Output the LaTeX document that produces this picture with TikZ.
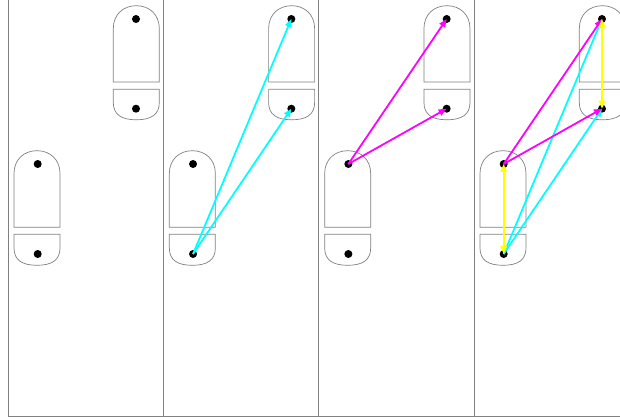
\documentclass[tikz,border=0pt]{standalone}
\usetikzlibrary{arrows.meta}
\definecolor{framegray}{RGB}{128,128,128}
\definecolor{cy}{RGB}{0,255,255}
\definecolor{mg}{RGB}{255,0,255}
\definecolor{yl}{RGB}{255,255,0}
\begin{document}
\begin{tikzpicture}[x=1pt,y=-1pt,
  frameline/.style={draw=framegray,line width=0.9pt},
  outline/.style={draw=framegray,line width=0.7pt},
  dot/.style={circle,fill=black,inner sep=0pt,minimum size=8pt},
  arr/.style={line width=1.8pt,-{Triangle[length=8pt,width=6.5pt]}},
  dblarr/.style={line width=1.8pt,{Triangle[length=8pt,width=6.5pt]}-{Triangle[length=8pt,width=6.5pt]}},
  cyanarrow/.style={arr,draw=cy,fill=cy},
  magentaarrow/.style={arr,draw=mg,fill=mg},
  yellowarrow/.style={dblarr,draw=yl,fill=yl}]
\useasboundingbox (0,0) rectangle (620,419);
% frame
\foreach \px in {8,163.33,318.67,474}
  \draw[frameline] (\px,0) -- (\px,416);
\draw[frameline] (8,416) -- (620,416);
% shapes and dots
\foreach \i/\px in {1/8,2/163.33,3/318.67,4/474}{
  % left pair
  \pgfmathsetmacro{\xa}{\px+6}
  \pgfmathsetmacro{\xb}{\px+52}
  \pgfmathsetmacro{\xc}{\px+29}
  \draw[outline] (\xa,227.3) -- (\xa,173.5) .. controls (\xa,159.5) and (\xa+10,150.7) .. (\xc,150.7)
     .. controls (\xb-10,150.7) and (\xb,159.5) .. (\xb,173.5) -- (\xb,227.3) -- cycle;
  \draw[outline] (\xa,234.3) -- (\xa,248) .. controls (\xa,260) and (\xa+8,265.3) .. (\xc,265.3)
     .. controls (\xb-8,265.3) and (\xb,260) .. (\xb,248) -- (\xb,234.3) -- cycle;
  \node[dot] (lt\i) at (\xc+0.7,164) {};
  \node[dot] (lb\i) at (\xc+0.7,254) {};
  % right pair
  \pgfmathsetmacro{\xd}{\px+105.3}
  \pgfmathsetmacro{\xe}{\px+151.3}
  \pgfmathsetmacro{\xf}{\px+128.3}
  \draw[outline] (\xd,82) -- (\xd,28.5) .. controls (\xd,14.5) and (\xd+10,5.7) .. (\xf,5.7)
     .. controls (\xe-10,5.7) and (\xe,14.5) .. (\xe,28.5) -- (\xe,82) -- cycle;
  \draw[outline] (\xd,89.3) -- (\xd,102.5) .. controls (\xd,114.5) and (\xd+8,119.8) .. (\xf,119.8)
     .. controls (\xe-8,119.8) and (\xe,114.5) .. (\xe,102.5) -- (\xe,89.3) -- cycle;
  \node[dot] (rt\i) at (\xf-0.3,19) {};
  \node[dot] (rb\i) at (\xf-0.3,108.7) {};
}
% panel 2
\draw[cyanarrow] (lb2.center) -- (rt2.center);
\draw[cyanarrow] (lb2.center) -- (rb2.center);
% panel 3
\draw[magentaarrow] (lt3.center) -- (rt3.center);
\draw[magentaarrow] (lt3.center) -- (rb3.center);
% panel 4
\draw[cyanarrow] (lb4.center) -- (rt4.center);
\draw[cyanarrow] (lb4.center) -- (rb4.center);
\draw[magentaarrow] (lt4.center) -- (rt4.center);
\draw[magentaarrow] (lt4.center) -- (rb4.center);
\draw[yellowarrow] (lt4.center) -- (lb4.center);
\draw[yellowarrow] (rt4.center) -- (rb4.center);
\end{tikzpicture}
\end{document}
